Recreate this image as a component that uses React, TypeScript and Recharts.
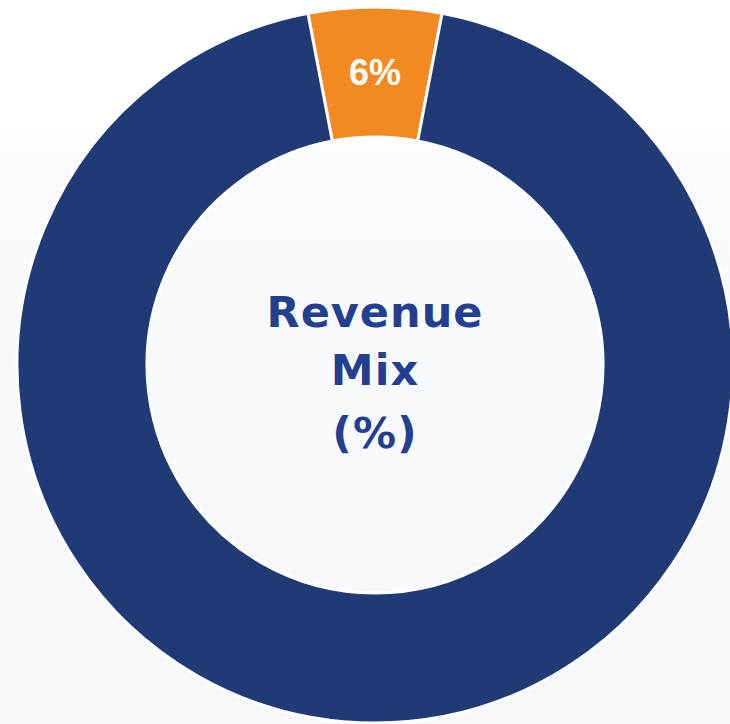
import React from 'react';
import { PieChart, Pie, Cell } from 'recharts';

const segments = ['Other', 'Highlighted'];
const shares = [6, 94];
const sliceNames = ['Segment A', 'Segment B'];
const centerLines = ['Revenue', 'Mix', '(%)'];

const COLORS = ['#F28A21', '#1F3A75'];
const TEXT_BLUE = '#22408F';

const data = shares.map((value, i) => ({ name: sliceNames[i], key: segments[i], value }));

const renderSliceLabel = (props: any) => {
  const { cx, cy, midAngle, innerRadius, outerRadius, value, index } = props;
  if (index !== 0) return null;
  const RAD = Math.PI / 180;
  const r = (innerRadius + outerRadius) / 2;
  const x = cx + r * Math.cos(-midAngle * RAD);
  const y = cy + r * Math.sin(-midAngle * RAD);
  return (
    <text
      x={x}
      y={y}
      fill="#ffffff"
      textAnchor="middle"
      dominantBaseline="central"
      style={{ fontFamily: 'Liberation Sans, Arial, sans-serif', fontWeight: 700, fontSize: 36 }}
    >
      {value}%
    </text>
  );
};

// baselines of the centre caption
const captionY = [327, 385, 448];

export default function App() {
  return (
    <div
      style={{
        position: 'absolute',
        left: 0,
        top: 0,
        width: 730,
        height: 724,
        overflow: 'hidden',
        background: 'linear-gradient(180deg, #ffffff 0%, #ffffff 17%, #f9fafd 24%, #f7f8fb 100%)',
      }}
    >
      <PieChart width={730} height={724} margin={{ top: 0, right: 0, bottom: 0, left: 0 }}>
        <Pie
          data={data}
          dataKey="value"
          nameKey="name"
          cx={375}
          cy={365}
          innerRadius={228}
          outerRadius={358}
          startAngle={100.8}
          endAngle={-259.2}
          stroke="#ffffff"
          strokeWidth={3}
          label={renderSliceLabel}
          labelLine={false}
          isAnimationActive={false}
        >
          {data.map((d, i) => (
            <Cell key={d.key} fill={COLORS[i]} />
          ))}
        </Pie>
      </PieChart>
      <svg width={730} height={724} style={{ position: 'absolute', left: 0, top: 0 }}>
        {centerLines.map((line, i) => (
          <text
            key={line}
            x={375}
            y={captionY[i]}
            textAnchor="middle"
            fill={TEXT_BLUE}
            style={{ fontFamily: 'DejaVu Sans, sans-serif', fontWeight: 700, fontSize: 43, letterSpacing: 1 }}
          >
            {line}
          </text>
        ))}
      </svg>
    </div>
  );
}
